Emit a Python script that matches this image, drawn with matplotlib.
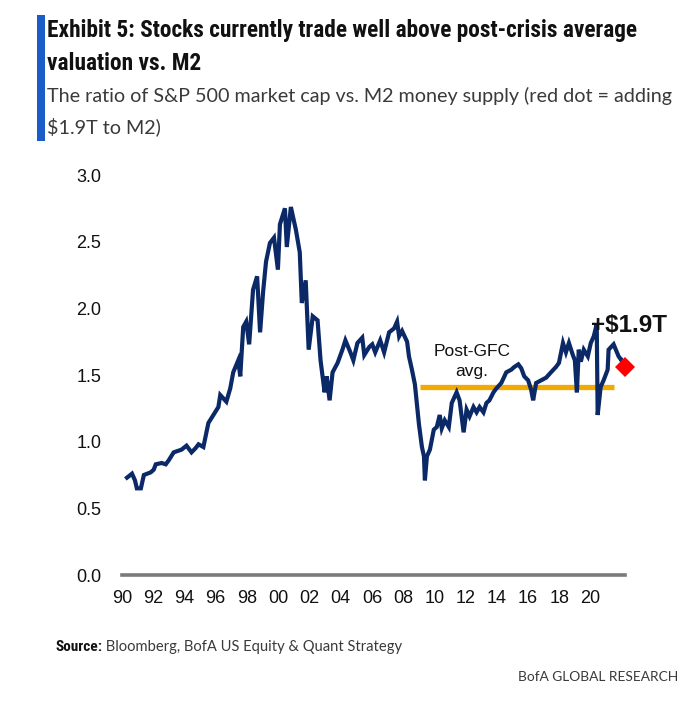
import matplotlib
matplotlib.use('Agg')
import matplotlib.pyplot as plt
from matplotlib import font_manager as fm
from matplotlib.patches import Rectangle

# ---------------- data ----------------
years = [1990.32, 1990.64, 1990.83, 1990.95, 1991.21, 1991.40, 1991.84, 1992.03, 1992.16, 1992.54,
         1992.80, 1992.99, 1993.31, 1993.81, 1994.13, 1994.45, 1994.70, 1994.90, 1995.21, 1995.53,
         1995.85, 1996.17, 1996.29, 1996.68, 1996.93, 1997.12, 1997.44, 1997.57, 1997.76, 1997.95,
         1998.14, 1998.39, 1998.65, 1998.84, 1999.03, 1999.22, 1999.47, 1999.73, 1999.98, 2000.11,
         2000.43, 2000.55, 2000.81, 2001.13, 2001.38, 2001.51, 2001.76, 2001.95, 2002.21, 2002.52,
         2002.71, 2002.97, 2003.10, 2003.29, 2003.48, 2003.80, 2004.11, 2004.30, 2004.62, 2004.81,
         2005.07, 2005.38, 2005.51, 2005.83, 2006.02, 2006.21, 2006.53, 2006.78, 2007.10, 2007.42,
         2007.61, 2007.74, 2007.93, 2008.25, 2008.37, 2008.56, 2008.75, 2009.01, 2009.20, 2009.33,
         2009.39, 2009.52, 2009.71, 2009.96, 2010.15, 2010.34, 2010.47, 2010.66, 2010.92, 2011.11,
         2011.42, 2011.61, 2011.87, 2012.06, 2012.25, 2012.50, 2012.70, 2012.89, 2013.14, 2013.33,
         2013.52, 2013.78, 2013.97, 2014.28, 2014.60, 2014.92, 2015.11, 2015.37, 2015.56, 2015.75,
         2016.00, 2016.19, 2016.32, 2016.51, 2016.83, 2017.15, 2017.46, 2017.78, 2017.97, 2018.23,
         2018.42, 2018.61, 2018.86, 2018.99, 2019.12, 2019.24, 2019.37, 2019.56, 2019.82, 2020.01,
         2020.20, 2020.39, 2020.45, 2020.64, 2020.83, 2021.09, 2021.15, 2021.47, 2021.79, 2021.98]
ratio = [0.73, 0.76, 0.71, 0.65, 0.65, 0.75, 0.77, 0.79, 0.83, 0.84,
         0.83, 0.86, 0.92, 0.94, 0.97, 0.92, 0.95, 0.98, 0.96, 1.14,
         1.20, 1.26, 1.35, 1.30, 1.40, 1.52, 1.61, 1.49, 1.86, 1.90,
         1.73, 2.14, 2.24, 1.82, 2.12, 2.35, 2.49, 2.53, 2.29, 2.63,
         2.75, 2.46, 2.76, 2.59, 2.42, 2.04, 2.21, 1.69, 1.94, 1.91,
         1.61, 1.37, 1.49, 1.31, 1.52, 1.59, 1.69, 1.76, 1.67, 1.61,
         1.74, 1.78, 1.65, 1.71, 1.73, 1.67, 1.76, 1.67, 1.82, 1.85,
         1.90, 1.79, 1.83, 1.75, 1.64, 1.54, 1.43, 1.13, 0.96, 0.89,
         0.71, 0.89, 0.94, 1.09, 1.11, 1.20, 1.10, 1.16, 1.11, 1.29,
         1.37, 1.31, 1.07, 1.24, 1.19, 1.26, 1.22, 1.26, 1.22, 1.29,
         1.31, 1.37, 1.40, 1.44, 1.52, 1.54, 1.56, 1.58, 1.55, 1.49,
         1.46, 1.39, 1.31, 1.44, 1.46, 1.48, 1.52, 1.56, 1.59, 1.74,
         1.67, 1.74, 1.65, 1.61, 1.37, 1.69, 1.60, 1.69, 1.64, 1.74,
         1.79, 1.88, 1.20, 1.41, 1.46, 1.54, 1.69, 1.73, 1.64, 1.61]
post_gfc_start = 2009.1
post_gfc_end = 2021.5
post_gfc_avg = 1.41
red_dot_year = 2022.2
red_dot_value = 1.56
xtick_years = list(range(1990, 2021, 2))
xtick_labels = [f"{y % 100:02d}" for y in xtick_years]
ytick_values = [0.0, 0.5, 1.0, 1.5, 2.0, 2.5, 3.0]
ytick_labels = [f"{v:.1f}" for v in ytick_values]

title_lines = ["Exhibit 5: Stocks currently trade well above post-crisis average",
               "valuation vs. M2"]
subtitle_lines = ["The ratio of S&P 500 market cap vs. M2 money supply (red dot = adding",
                  "$1.9T to M2)"]
annot_avg = "Post-GFC\navg."
annot_dot = "+$1.9T"
source_bold = "Source:"
source_rest = " Bloomberg, BofA US Equity & Quant Strategy"
brand = "BofA GLOBAL RESEARCH"


def pick(names):
    for n in names:
        try:
            fm.findfont(fm.FontProperties(family=n), fallback_to_default=False)
            return n
        except Exception:
            pass
    return 'DejaVu Sans'


narrow = pick(['Liberation Sans Narrow', 'Roboto Condensed', 'Open Sans Condensed', 'Lato'])
arial = pick(['Liberation Sans', 'Arial', 'DejaVu Sans'])
light = pick(['Liberation Sans Narrow', 'Lato', 'Open Sans'])

W, H = 700, 724
fig = plt.figure(figsize=(W / 100, H / 100), dpi=100)
fig.patch.set_facecolor('white')
renderer = fig.canvas.get_renderer()

NAVY = '#0b2867'
ORANGE = '#f2a900'

ax = fig.add_axes([122 / W, 1 - 575 / H, (625 - 122) / W, (575 - 175) / H])
ax.set_xlim(1990.0, 2022.2)
ax.set_ylim(0, 3.0)
for s in ['top', 'right', 'left']:
    ax.spines[s].set_visible(False)
ax.spines['bottom'].set_color('#7a7a7a')
ax.spines['bottom'].set_linewidth(2.6)
ax.set_xticks(xtick_years)
ax.set_xticklabels(xtick_labels)
ax.set_yticks(ytick_values)
ax.set_yticklabels(ytick_labels)
ax.tick_params(axis='both', length=0, labelsize=13, colors='#111111')
ax.tick_params(axis='y', pad=15)
ax.tick_params(axis='x', pad=11)
for lab in ax.get_xticklabels() + ax.get_yticklabels():
    lab.set_fontfamily(arial)

ax.plot([post_gfc_start, post_gfc_end], [post_gfc_avg, post_gfc_avg], color=ORANGE,
        lw=3.8, solid_capstyle='butt', zorder=2)
ax.plot(years, ratio, color=NAVY, lw=3.0, solid_joinstyle='miter', zorder=3)
ax.plot([years[-1], red_dot_year], [ratio[-1], red_dot_value], color=NAVY, lw=3.0, zorder=3)
ax.plot([red_dot_year], [red_dot_value], marker='D', color='#ff0000', markersize=10,
        markeredgewidth=0, linestyle='none', zorder=4, clip_on=False)

ax.text(2012.4, 1.60, annot_avg, ha='center', va='center', fontsize=12.5,
        fontfamily=arial, color='#111111', linespacing=1.45)
ax.text(2022.45, 1.87, annot_dot, ha='center', va='center', fontsize=17.5,
        fontweight='bold', fontfamily=arial, color='#111111', clip_on=False)


def fit_text(x, y, s, target_w, size0, **kw):
    t = fig.text(x / W, 1 - y / H, s, fontsize=size0, va='center', **kw)
    w = t.get_window_extent(renderer).width
    t.set_fontsize(size0 * target_w / w)
    return t


fig.patches.append(Rectangle((37 / W, 1 - 141 / H), 8 / W, 126 / H, transform=fig.transFigure,
                             facecolor='#1a5dc8', edgecolor='none'))

t1 = fit_text(47, 30, title_lines[0], 593, 16, fontweight='bold', fontfamily=narrow, color='#111111')
fig.text(47 / W, 1 - 63 / H, title_lines[1], fontsize=t1.get_fontsize(), va='center',
         fontweight='bold', fontfamily=narrow, color='#111111')
s1 = fit_text(47, 96, subtitle_lines[0], 628, 16, fontfamily=light, color='#3a3a3a')
fig.text(47 / W, 1 - 127 / H, subtitle_lines[1], fontsize=s1.get_fontsize(), va='center',
         fontfamily=light, color='#3a3a3a')

sb = fig.text(55 / W, 1 - 647 / H, source_bold, fontsize=11, va='center', fontweight='bold',
              fontfamily=narrow, color='#111111')
bw = sb.get_window_extent(renderer).width
fit_text(55 + bw, 647, source_rest, 402 - 55 - bw, 11, fontfamily=light, color='#3a3a3a')
br = fit_text(518, 677, brand, 160, 11, fontfamily=light, color='#3a3a3a')

fig.savefig('out.png', dpi=100, facecolor='white')
